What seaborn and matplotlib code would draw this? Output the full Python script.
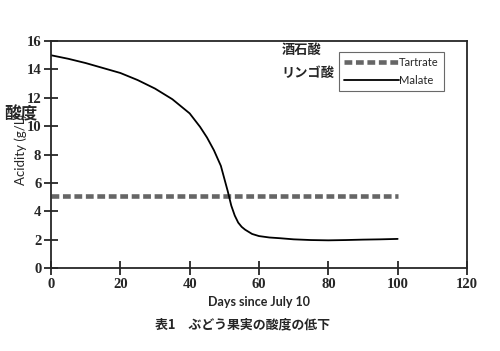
import numpy as np
import pandas as pd
import seaborn as sns
import matplotlib.pyplot as plt

# values
days = [0, 5, 10, 15, 20, 25, 30, 35, 40, 43, 45, 47, 49, 50, 51, 52, 53, 54,
        55, 56, 58, 60, 63, 66, 70, 75, 80, 85, 90, 95, 100]
malate = [15.0, 14.75, 14.45, 14.1, 13.75, 13.25, 12.65, 11.9, 10.9, 9.95, 9.2,
          8.3, 7.2, 6.3, 5.4, 4.4, 3.7, 3.2, 2.9, 2.7, 2.4, 2.25, 2.15, 2.1,
          2.02, 1.97, 1.95, 1.97, 2.0, 2.02, 2.05]
tartrate_days = [0, 100]
tartrate = [5.1, 5.1]

x_ticks = [0, 20, 40, 60, 80, 100, 120]
y_ticks = [0, 2, 4, 6, 8, 10, 12, 14, 16]

sns.set_style("ticks")
plt.rcParams["font.family"] = ["Noto Sans CJK JP", "DejaVu Sans"]

fig = plt.figure(figsize=(5, 3.51), dpi=100)
ax = fig.add_axes([0.102, 0.2365, 0.832, 0.6465])

df_t = pd.DataFrame({"day": tartrate_days, "acid": tartrate})
df_m = pd.DataFrame({"day": days, "acid": malate})

sns.lineplot(data=df_t, x="day", y="acid", ax=ax, color="#666666",
             linewidth=3.3, linestyle=(0, (1.7, 0.8)), label="Tartrate")
sns.lineplot(data=df_m, x="day", y="acid", ax=ax, color="black",
             linewidth=1.3, label="Malate")

ax.set_xlim(0, 120)
ax.set_ylim(0, 16)
ax.set_xticks(x_ticks)
ax.set_yticks(y_ticks)
for sp in ax.spines.values():
    sp.set_linewidth(1.3)
ax.tick_params(direction="inout", length=10, width=1.3, pad=2)
for lab in ax.get_xticklabels() + ax.get_yticklabels():
    lab.set_family("Liberation Serif")
    lab.set_fontweight("bold")
    lab.set_fontsize(10.5)

ax.set_xlabel("Days since July 10", fontsize=9, fontweight="bold",
              family="Lato", labelpad=4)
ax.set_ylabel("Acidity (g/L)", fontsize=9.5, family="Lato")
ax.yaxis.set_label_coords(-0.058, 0.52)

leg = ax.legend(loc="upper right", bbox_to_anchor=(0.957, 0.975),
                frameon=True, fancybox=False, edgecolor="#444444",
                handlelength=4.9, handletextpad=0.0, borderpad=0.45,
                labelspacing=0.6, prop={"family": "Lato", "size": 8})
leg.get_frame().set_linewidth(0.8)

fig.text(0.563, 0.858, "酒石酸", fontsize=9.5, fontweight="bold", va="center")
fig.text(0.563, 0.792, "リンゴ酸", fontsize=9.5, fontweight="bold", va="center")
fig.text(0.008, 0.675, "酸度", fontsize=12, fontweight="bold", va="center")
fig.text(0.485, 0.077, "表1　ぶどう果実の酸度の低下", fontsize=9.3,
         fontweight="bold", ha="center", va="center")

fig.savefig("out.png", dpi=100)
